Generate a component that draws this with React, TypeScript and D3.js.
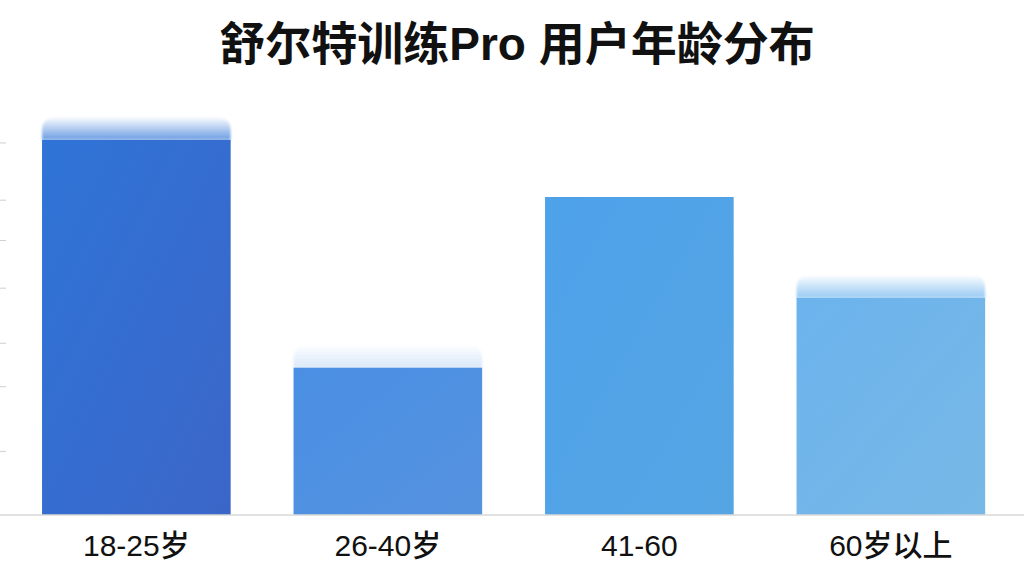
import React from "react";
import * as d3 from "d3";

const categories = ["18-25岁", "26-40岁", "41-60", "60岁以上"];
const shares = [35.4, 13.9, 30.0, 20.5];
const tickValues = [6, 12.1, 16.2, 21.4, 25.9, 29.7, 35.1];
const capStrength = [1, 0.3, 0, 1];
const colorTop = ["#2f74d7", "#4a8fe4", "#4ea2ea", "#6cb3ed"];
const colorBottom = ["#3b66c8", "#5592df", "#55a5e4", "#77b8e6"];

const W = 1024;
const H = 576;
const baseY = 515;

export default function App() {
    const x = d3.scaleBand<string>()
        .domain(categories)
        .range([10.6, 1016.6])
        .paddingInner(0.25)
        .paddingOuter(0.125);

    const y = d3.scaleLinear()
        .domain([0, 40])
        .range([baseY, baseY - 40 * 10.6]);

    const capH = 22;
    const r = 13;

    // rounded-top cap above each bar
    const capPath = (x0: number, top: number, w: number) => {
        const p = d3.path();
        p.moveTo(x0, top + capH);
        p.lineTo(x0, top + r);
        p.quadraticCurveTo(x0, top, x0 + r, top);
        p.lineTo(x0 + w - r, top);
        p.quadraticCurveTo(x0 + w, top, x0 + w, top + r);
        p.lineTo(x0 + w, top + capH);
        p.closePath();
        return p.toString();
    };

    return (
        <svg width={W} height={H} style={{ position: "fixed", left: 0, top: 0, background: "#fff" }}
             fontFamily="'Liberation Sans', 'Noto Sans CJK SC', sans-serif">
            <defs>
                {categories.map((c, i) => (
                    <linearGradient key={c} id={`bar${i}`} x1="0" y1="0" x2="1" y2="1">
                        <stop offset="0%" stopColor={colorTop[i]} />
                        <stop offset="100%" stopColor={colorBottom[i]} />
                    </linearGradient>
                ))}
                {categories.map((c, i) => (
                    <linearGradient key={c} id={`cap${i}`} x1="0" y1="0" x2="0" y2="1">
                        <stop offset="0%" stopColor={colorTop[i]} stopOpacity={0.04 * capStrength[i]} />
                        <stop offset="100%" stopColor={colorTop[i]} stopOpacity={0.7 * capStrength[i]} />
                    </linearGradient>
                ))}
                <filter id="soft" x="-5%" y="-50%" width="110%" height="200%">
                    <feGaussianBlur stdDeviation="1.2" />
                </filter>
            </defs>

            <text x={517} y={60} textAnchor="middle" fontSize={46} fontWeight="bold" fill="#111">
                舒尔特训练Pro 用户年龄分布
            </text>

            {/* faint y ticks on the left edge */}
            {tickValues.map(t => (
                <line key={t} x1={0} x2={6} y1={y(t)} y2={y(t)} stroke="#cfcfcf" strokeWidth={1} />
            ))}

            {categories.map((c, i) => {
                const bx = x(c)!;
                const bw = x.bandwidth();
                const top = y(shares[i]);
                return (
                    <g key={c}>
                        {capStrength[i] > 0 && (
                            <path d={capPath(bx, top - capH, bw)} fill={`url(#cap${i})`} filter="url(#soft)" />
                        )}
                        <rect x={bx} y={top} width={bw} height={baseY - top} fill={`url(#bar${i})`} />
                    </g>
                );
            })}

            <line x1={0} x2={W} y1={baseY} y2={baseY} stroke="#d8d8d8" strokeWidth={1.5} />

            {categories.map(c => (
                <text key={c} x={x(c)! + x.bandwidth() / 2} y={556} textAnchor="middle"
                      fontSize={30} fontWeight={500} fill="#111">
                    {c}
                </text>
            ))}
        </svg>
    );
}
